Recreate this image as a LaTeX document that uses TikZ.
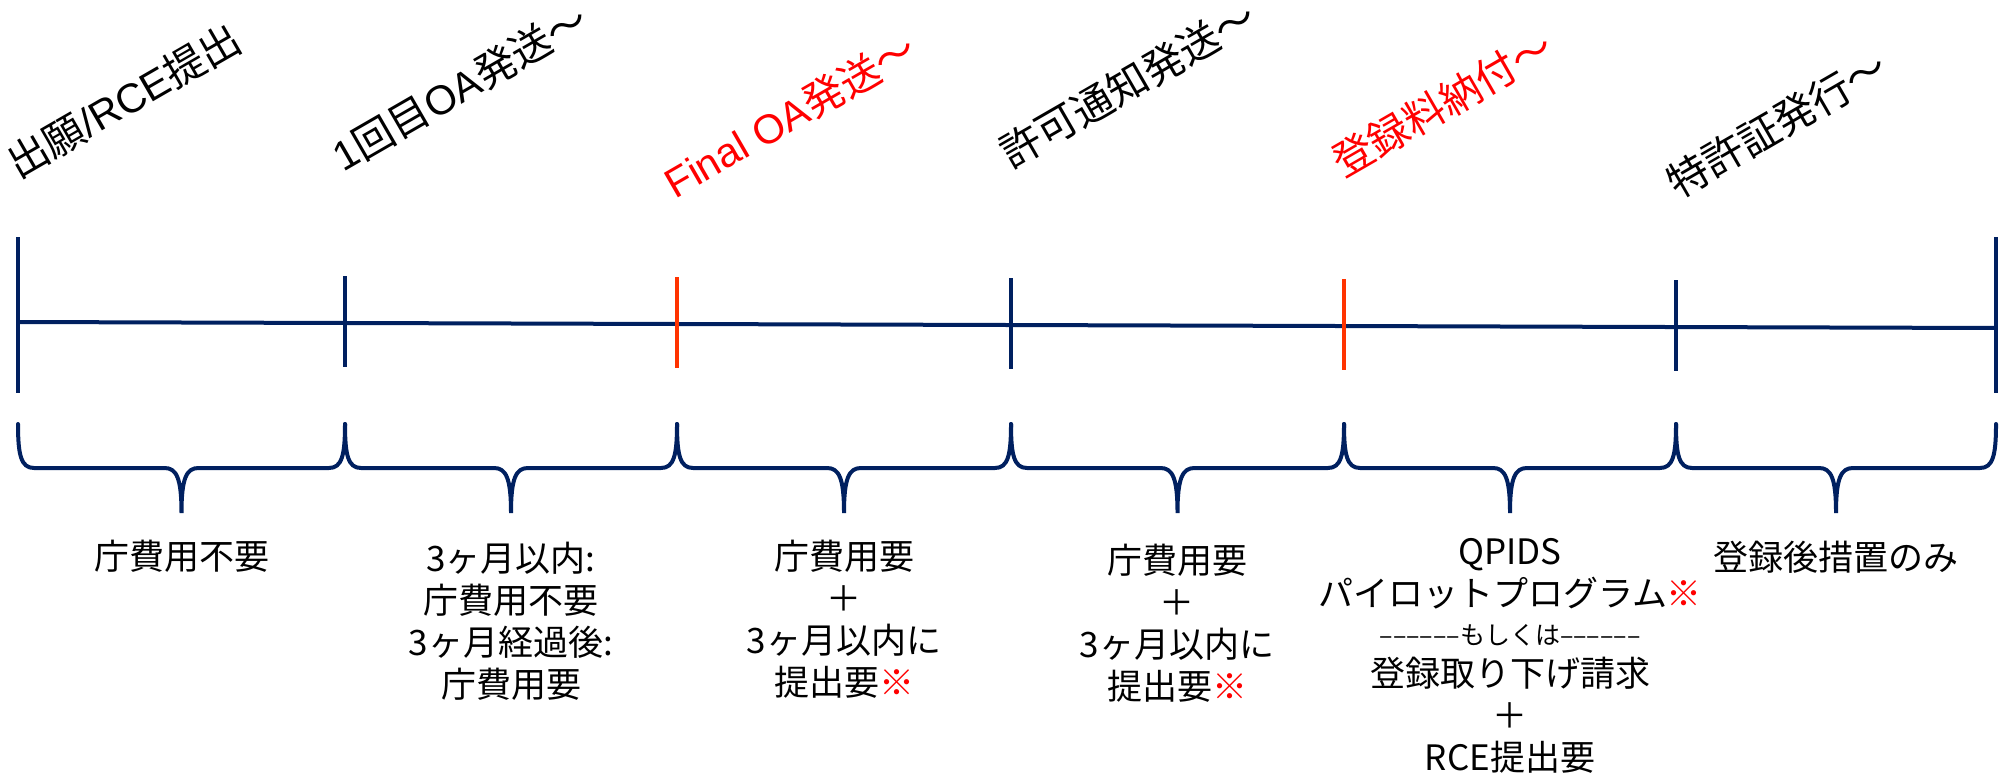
\documentclass[tikz,border=0pt]{standalone}
\usepackage{fontspec}
\setmainfont{Noto Sans CJK JP}
\newfontfamily\latin{Liberation Sans}
\usetikzlibrary{positioning}
\definecolor{navy}{RGB}{0,32,96}
\definecolor{mark}{RGB}{255,51,0}

\begin{document}
\begin{tikzpicture}
  [x=0.5pt,y=-0.5pt,
   axis/.style={draw=navy,line width=2pt},
   spanbrace/.style={draw=navy,line width=2pt,line cap=round},
   stage/.style={rotate=30,anchor=south west,inner sep=0pt,font=\fontsize{20.5}{24}\selectfont},
   note/.style={anchor=north,align=center,inner sep=0pt,font=\fontsize{17.5}{21}\selectfont}]
  \useasboundingbox (0,0) rectangle (2007,776);
  % timeline
  \coordinate (t0) at (18,322);
  \coordinate (t1) at (345,323);
  \coordinate (t2) at (677,324);
  \coordinate (t3) at (1011,325);
  \coordinate (t4) at (1344,326);
  \coordinate (t5) at (1676,327);
  \coordinate (t6) at (1996,328);
  \draw[axis] (t0) -- (t6);
  \draw[axis] (t0) ++(0,-85) -- ++(0,156);
  \draw[axis] (t6) ++(0,-91) -- ++(0,156);
  \foreach \p/\c in {t1/navy,t2/mark,t3/navy,t4/mark,t5/navy}
    \draw[draw=\c,line width=2pt] (\p) ++(0,-47) -- ++(0,91);
  % stages
  \node[stage] (s0) at (20,183) {出願{\latin/RCE}提出};
  \node[stage] (s1) at (345,176) {{\latin 1}回目{\latin OA}発送〜};
  \node[stage,text=red] (s2) at (677,203) {{\latin Final OA}発送〜};
  \node[stage] (s3) at (1013,173) {許可通知発送〜};
  \node[stage,text=red] (s4) at (1345,182) {登録料納付〜};
  \node[stage] (s5) at (1680,203) {特許証発行〜};
  % braces
  \foreach \a/\b in {18/345,345/677,677/1011,1011/1344,1344/1676,1676/1996}{
    \pgfmathsetmacro\c{(\a+\b)/2}
    \draw[spanbrace] (\a,424) .. controls (\a,455) and (\a+3,468) .. (\a+16,468)
      -- (\c-17,468) .. controls (\c-5,468) and (\c,478) .. (\c,513)
      .. controls (\c,478) and (\c+5,468) .. (\c+17,468)
      -- (\b-16,468) .. controls (\b-3,468) and (\b,455) .. (\b,424);
  }
  % notes
  \node[note] (n0) at (182,540) {庁費用不要};
  \node[note] (n1) at (511,542) {3ヶ月以内:\\庁費用不要\\3ヶ月経過後:\\庁費用要};
  \node[note] (n2) at (844,540) {庁費用要\\＋\\3ヶ月以内に\\提出要{\color{red}※}};
  \node[note] (n3) at (1177,544) {庁費用要\\＋\\3ヶ月以内に\\提出要{\color{red}※}};
  \node[note] (n4) at (1510,538) {QPIDS\\パイロットプログラム{\color{red}※}\\[-2pt]
    {\fontsize{12.5}{21}\selectfont ––––––もしくは––––––}\\登録取り下げ請求\\＋\\RCE提出要};
  \node[note] (n5) at (1836,541) {登録後措置のみ};
\end{tikzpicture}
\end{document}
